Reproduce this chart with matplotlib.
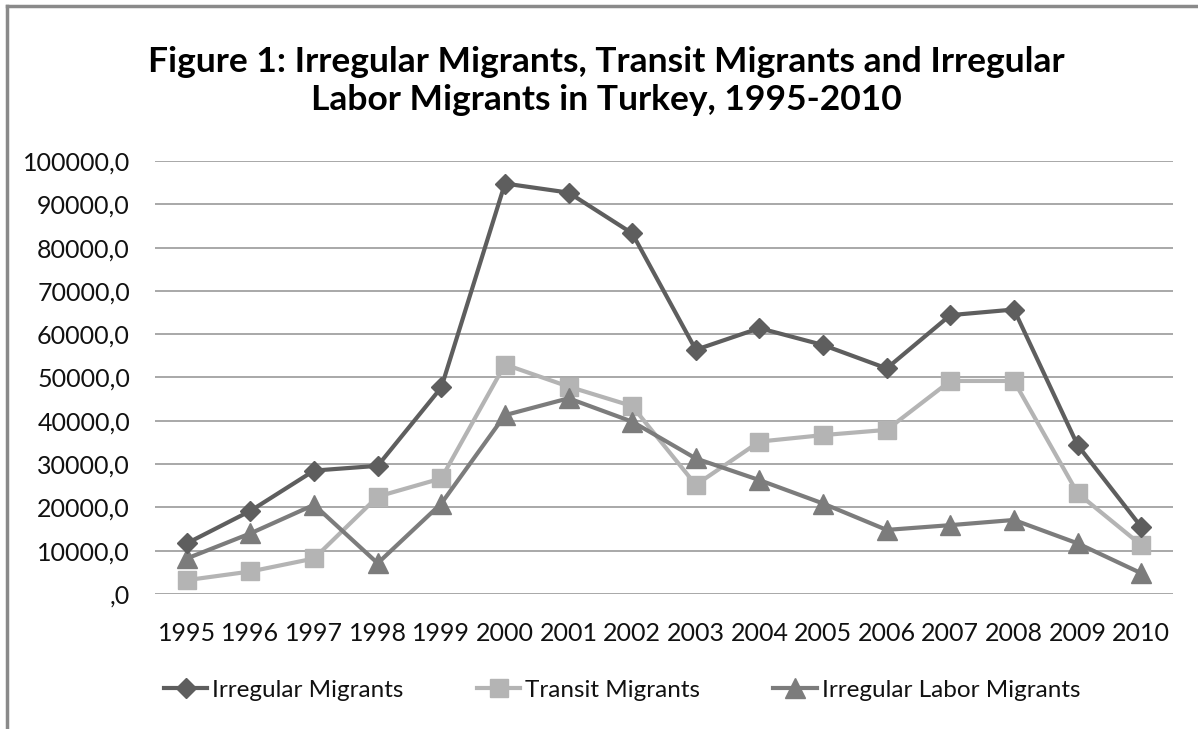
import matplotlib
matplotlib.use("Agg")
import matplotlib.pyplot as plt
from matplotlib.ticker import FuncFormatter, MultipleLocator
from matplotlib.lines import Line2D

plt.rcParams['font.family'] = ['Lato', 'DejaVu Sans']

years = [str(y) for y in range(1995, 2011)]
irregular = [11700, 19200, 28500, 29600, 47700, 94800, 92700, 83300,
             56400, 61400, 57500, 52100, 64400, 65700, 34400, 15500]
transit = [3200, 5200, 8200, 22500, 26700, 53000, 47900, 43400,
           25200, 35200, 36700, 37900, 49200, 49200, 23300, 11300]
labor = [8200, 14000, 20600, 7100, 20900, 41300, 45200, 39800,
         31300, 26300, 20900, 14800, 15900, 17100, 11700, 4800]
series_names = ["Irregular Migrants", "Transit Migrants", "Irregular Labor Migrants"]

W, H = 1198, 729
fig = plt.figure(figsize=(W / 100, H / 100), dpi=100)
ax = fig.add_axes([155 / W, 1 - 594 / H, (1173 - 155) / W, (594 - 161) / H])

x = list(range(len(years)))
ax.plot(x, irregular, color='#5e5e5e', lw=3, marker='D', ms=10,
        label=series_names[0], zorder=3)
ax.plot(x, transit, color='#b4b4b4', lw=3, marker='s', ms=12.5,
        label=series_names[1], zorder=2)
ax.plot(x, labor, color='#7c7c7c', lw=3, marker='^', ms=14,
        label=series_names[2], zorder=2.5)

ax.set_xlim(-0.5, len(years) - 0.5)
ax.set_ylim(0, 100000)
ax.set_xticks(x)
ax.set_xticklabels(years)
ax.yaxis.set_major_locator(MultipleLocator(10000))


def fmt(v, pos):
    if abs(v) < 1e-9:
        return ",0"
    return f"{v:.1f}".replace('.', ',')


ax.yaxis.set_major_formatter(FuncFormatter(fmt))
ax.grid(axis='y', color='#9a9a9a', lw=1.2)
ax.set_axisbelow(True)
gl = ax.get_ygridlines()
if gl:
    gl[0].set_visible(False)
for s in ax.spines.values():
    s.set_visible(False)
ax.tick_params(axis='both', length=0, labelsize=18, colors='#111111')
ax.tick_params(axis='y', pad=18)
ax.tick_params(axis='x', pad=20)

fig.text(606 / W, 1 - 81 / H,
         "Figure 1: Irregular Migrants, Transit Migrants and Irregular\nLabor Migrants in Turkey, 1995-2010",
         ha='center', va='center', fontsize=25.5, fontweight='bold',
         linespacing=1.25, color='#000000')

fig.legend(loc='center', bbox_to_anchor=(622 / W, 1 - 690 / H), ncol=3,
           frameon=False, fontsize=17.5, handlelength=1.8, handletextpad=0.2,
           columnspacing=3.0, labelcolor='#111111')

# chart border (top and left edges visible)
fig.add_artist(Line2D([7 / W, 7 / W], [0, 1 - 6 / H], transform=fig.transFigure,
                      color='#8a8a8a', lw=2.5))
fig.add_artist(Line2D([7 / W, 1], [1 - 6 / H, 1 - 6 / H], transform=fig.transFigure,
                      color='#8a8a8a', lw=2.5))

fig.savefig("out.png", dpi=100)
